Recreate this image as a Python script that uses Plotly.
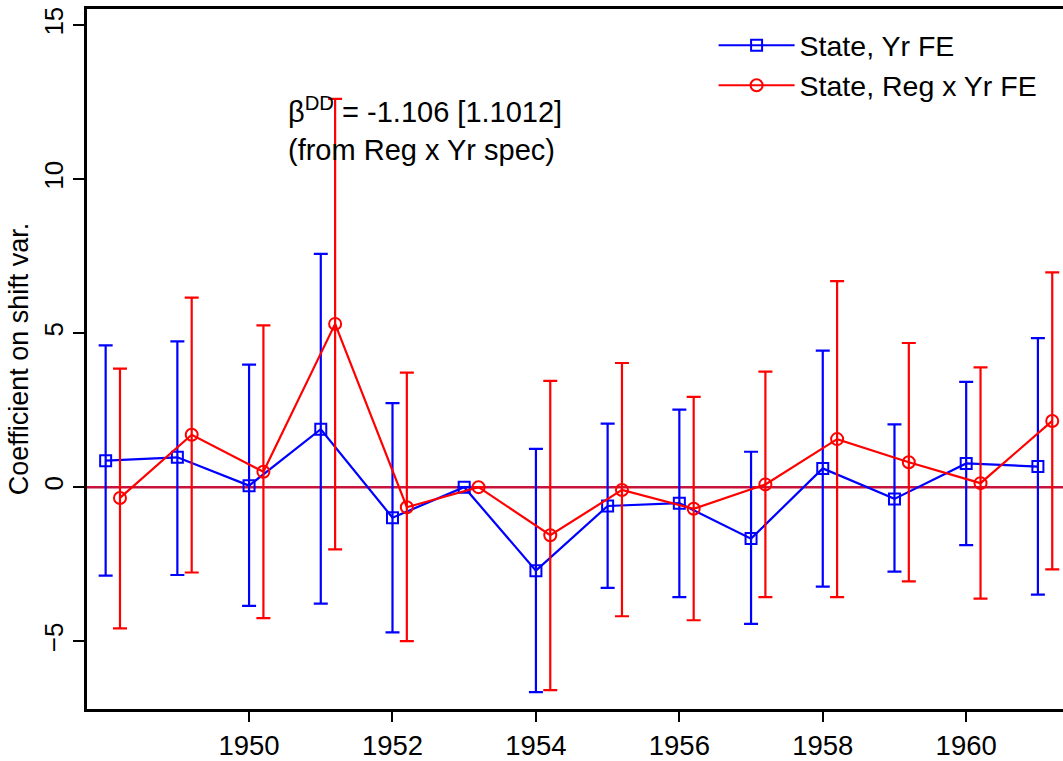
import plotly.graph_objects as go

years = [1948, 1949, 1950, 1951, 1952, 1953, 1954, 1955, 1956, 1957, 1958, 1959, 1960, 1961]
offset_red = 0.2

# State, Yr FE (blue)
blue_coef = [0.86, 0.97, 0.05, 1.88, -0.99, 0.0, -2.71, -0.61, -0.52, -1.67, 0.61, -0.38, 0.77, 0.67]
blue_hi = [4.60, 4.73, 3.98, 7.57, 2.73, None, 1.24, 2.06, 2.52, 1.15, 4.43, 2.04, 3.42, 4.84]
blue_lo = [-2.87, -2.85, -3.85, -3.78, -4.71, None, -6.65, -3.27, -3.57, -4.44, -3.23, -2.74, -1.88, -3.49]

# State, Reg x Yr FE (red)
red_coef = [-0.35, 1.70, 0.50, 5.30, -0.65, 0.0, -1.56, -0.09, -0.70, 0.09, 1.56, 0.81, 0.13, 2.15]
red_hi = [3.85, 6.15, 5.25, 12.60, 3.72, None, 3.45, 4.03, 2.93, 3.75, 6.69, 4.68, 3.89, 6.97]
red_lo = [-4.58, -2.77, -4.25, -2.02, -5.00, None, -6.59, -4.19, -4.32, -3.57, -3.57, -3.06, -3.62, -2.67]

x_ticks = [1950, 1952, 1954, 1956, 1958, 1960]
y_ticks = [-5, 0, 5, 10, 15]

annotation_text = "β<sup>DD</sup> = -1.106 [1.1012]<br>(from Reg x Yr spec)"
annotation_x = 1950.52
annotation_y = 11.63


def err_plus(c, h):
    return [None if hh is None else hh - cc for cc, hh in zip(c, h)]


def err_minus(c, l):
    return [None if ll is None else cc - ll for cc, ll in zip(c, l)]


FONT = "Liberation Sans, Arial, Helvetica, sans-serif"

fig = go.Figure()
fig.add_trace(go.Scatter(
    x=years, y=blue_coef, mode="lines+markers", name="State, Yr FE",
    legendgroup="a",
    line=dict(color="#0000ff", width=2.2),
    marker=dict(symbol="square-open", size=11, color="#0000ff", line=dict(width=2)),
    error_y=dict(type="data", symmetric=False, array=err_plus(blue_coef, blue_hi),
                 arrayminus=err_minus(blue_coef, blue_lo), color="#0000ff",
                 thickness=2.2, width=7),
))
fig.add_trace(go.Scatter(
    x=[y + offset_red for y in years], y=red_coef, mode="lines+markers",
    name="State, Reg x Yr FE", legendgroup="b",
    line=dict(color="#ff0000", width=2.2),
    marker=dict(symbol="circle-open", size=12, color="#ff0000", line=dict(width=2)),
    error_y=dict(type="data", symmetric=False, array=err_plus(red_coef, red_hi),
                 arrayminus=err_minus(red_coef, red_lo), color="#ff0000",
                 thickness=2.2, width=7),
))

fig.add_hline(y=0, line=dict(color="#c8143c", width=2.5), layer="below")

# single multi-line annotation; line height tightened via inline style
fig.add_annotation(
    x=annotation_x, y=annotation_y, xref="x", yref="y", text=annotation_text,
    showarrow=False, xanchor="left", yanchor="middle", align="left",
    font=dict(family=FONT, size=29, color="black"),
)

fig.update_layout(
    width=1063, height=761,
    margin=dict(l=87, r=0, t=9, b=48),
    paper_bgcolor="white", plot_bgcolor="white",
    font=dict(family=FONT, size=26, color="black"),
    showlegend=True,
    legend=dict(x=0.642, y=0.984, xanchor="left", yanchor="top",
                bgcolor="rgba(0,0,0,0)", font=dict(size=28.5), itemwidth=76,
                tracegroupgap=0),
    xaxis=dict(range=[1947.74, 1961.35], tickvals=x_ticks, ticks="outside",
               ticklen=10, tickwidth=2, tickcolor="black", showline=True,
               linecolor="black", linewidth=2.5, mirror=True, showgrid=False,
               zeroline=False, tickfont=dict(size=27.5)),
    yaxis=dict(range=[-7.2, 15.52], tickvals=y_ticks, ticks="outside",
               ticklen=11, tickwidth=2, tickcolor="black", showline=True,
               linecolor="black", linewidth=2.5, showgrid=False, zeroline=False,
               tickangle=-90, tickfont=dict(size=26), ticklabelstandoff=0,
               title=dict(text="Coefficient on shift var.", standoff=3,
                          font=dict(size=27))),
)

fig.write_html(
    "out.html",
    config={"displayModeBar": False},
    post_script="document.body.style.margin='0px';document.body.style.overflow='hidden';",
)
